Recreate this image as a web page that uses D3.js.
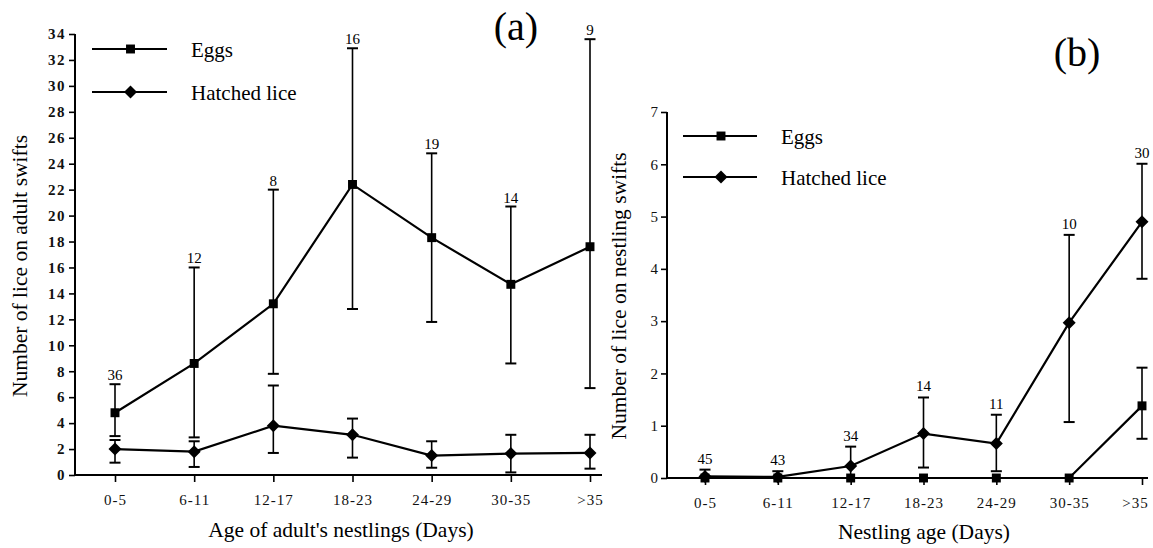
<!DOCTYPE html>
<html>
<head>
<meta charset="utf-8">
<script src="https://cdn.jsdelivr.net/npm/d3@7"></script>
<style>
  body { margin: 0; background: #fff; }
  svg, svg text { font-family: "Liberation Serif", "Times New Roman", serif; }
</style>
</head>
<body>
<svg width="1153" height="548"></svg>
<script>
// categories
const ageGroups = ['0-5', '6-11', '12-17', '18-23', '24-29', '30-35', '>35'];

// panel (a): lice on adult swifts
const adultEggMean = [4.8, 8.6, 13.2, 22.4, 18.3, 14.7, 17.6];
const adultEggHi   = [7.0, 16.0, 22.0, 32.9, 24.8, 20.7, 33.6];
const adultEggLo   = [3.0, 2.9, 7.8, 12.8, 11.8, 8.6, 6.7];
const adultLiceMean = [2.0, 1.8, 3.8, 3.1, 1.5, 1.65, 1.7];
const adultLiceHi   = [2.7, 2.6, 6.9, 4.35, 2.6, 3.1, 3.1];
const adultLiceLo   = [0.95, 0.62, 1.7, 1.34, 0.56, 0.2, 0.49];
const adultN = [36, 12, 8, 16, 19, 14, 9];
const adultTicks = d3.range(0, 35, 2);

// panel (b): lice on nestling swifts
const nestEggMean = [0, 0, 0, 0, 0, 0, 1.38];
const nestEggHi   = [null, null, null, null, null, null, 2.11];
const nestEggLo   = [null, null, null, null, null, null, 0.75];
const nestLiceMean = [0.03, 0.02, 0.23, 0.85, 0.66, 2.97, 4.9];
const nestLiceHi   = [0.16, 0.13, 0.6, 1.54, 1.21, 4.65, 6.01];
const nestLiceLo   = [0, 0, 0, 0.2, 0.13, 1.07, 3.81];
const nestN = [45, 43, 34, 14, 11, 10, 30];
const nestTicks = d3.range(0, 8, 1);

const svg = d3.select('svg');

// wide diamond like the printed figure
const diamond = 'M0,-6.5L6.5,0L0,6.5L-6.5,0Z';
const square = d3.symbol().type(d3.symbolSquare).size(80)();

function drawPanel(o) {
  let g = svg.append('g');
  let x = d3.scalePoint().domain(ageGroups).range([o.x0, o.x1]);
  let y = d3.scaleLinear().domain(o.yDomain).range([o.yBottom, o.yTop]);

  // y axis
  let yAxis = d3.axisLeft(y).tickValues(o.yTicks).tickFormat(d3.format('d'))
    .tickSize(6).tickPadding(3).tickSizeOuter(0);
  let ya = g.append('g').attr('transform', `translate(${o.axisX},0)`).call(yAxis)
    .attr('font-family', null);
  ya.select('.domain').attr('stroke-width', 2).attr('d', `M0,${o.yBottom}V${o.yTop}`);
  ya.selectAll('.tick line').attr('stroke-width', 1.6);
  ya.selectAll('.tick text')
    .style('font-size', '15px').style('font-weight', o.yTickWeight)
    .style('letter-spacing', o.yTickSpacing + 'px').attr('fill', '#111');

  // x axis
  let xAxis = d3.axisBottom(x).tickSize(7).tickPadding(12).tickSizeOuter(0);
  let xa = g.append('g').attr('transform', `translate(0,${o.yBottom})`).call(xAxis)
    .attr('font-family', null);
  xa.select('.domain').attr('stroke-width', 2).attr('d', `M${o.axisX},0H${o.xEnd}`);
  xa.selectAll('.tick line').attr('stroke-width', 1.6);
  xa.selectAll('.tick text').style('font-size', '15px')
    .style('letter-spacing', '1px').attr('fill', '#111')
    .attr('dx', (d, i, n) => i === n.length - 1 ? o.lastTickDx : 0);

  // axis titles
  g.append('text')
    .attr('x', o.xTitleX).attr('y', o.xTitleY)
    .attr('text-anchor', 'middle').style('font-size', '21.5px')
    .text(o.xTitle);
  g.append('text')
    .attr('transform', `translate(${o.yTitleX},${o.yTitleY}) rotate(-90)`)
    .attr('text-anchor', 'middle').style('font-size', '21.5px')
    .text(o.yTitle);

  // panel letter
  g.append('text')
    .attr('x', o.letterX).attr('y', o.letterY)
    .attr('text-anchor', 'middle').style('font-size', '40px')
    .text(o.letter);

  // error bars
  function errorBars(hi, lo, capW) {
    ageGroups.forEach((c, i) => {
      if (hi[i] == null) return;
      let cx = x(c);
      g.append('line').attr('x1', cx).attr('x2', cx)
        .attr('y1', y(hi[i])).attr('y2', y(lo[i]))
        .attr('stroke', '#000').attr('stroke-width', 1.6);
      [hi[i], lo[i]].forEach(v => {
        g.append('line').attr('x1', cx - capW / 2).attr('x2', cx + capW / 2)
          .attr('y1', y(v)).attr('y2', y(v))
          .attr('stroke', '#000').attr('stroke-width', 2);
      });
    });
  }
  errorBars(o.eggHi, o.eggLo, 11);
  errorBars(o.liceHi, o.liceLo, 11);

  let line = d3.line().x((d, i) => x(ageGroups[i])).y(d => y(d));
  g.append('path').datum(o.eggMean).attr('d', line)
    .attr('fill', 'none').attr('stroke', '#000').attr('stroke-width', 2.2);
  g.append('path').datum(o.liceMean).attr('d', line)
    .attr('fill', 'none').attr('stroke', '#000').attr('stroke-width', 2.2);

  g.selectAll('.egg').data(o.eggMean).enter().append('path')
    .attr('d', square).attr('transform', (d, i) => `translate(${x(ageGroups[i])},${y(d)})`);
  g.selectAll('.lice').data(o.liceMean).enter().append('path')
    .attr('d', diamond).attr('transform', (d, i) => `translate(${x(ageGroups[i])},${y(d)})`);

  // sample sizes
  g.selectAll('.n').data(o.n).enter().append('text')
    .attr('x', (d, i) => x(ageGroups[i]))
    .attr('y', (d, i) => y(o.nAt[i]) - o.nOffset)
    .attr('text-anchor', 'middle').style('font-size', '15px')
    .text(d => d);

  // legend
  let legend = [['Eggs', square, o.legY0], ['Hatched lice', diamond, o.legY1]];
  legend.forEach(([label, sym, ly]) => {
    g.append('line').attr('x1', o.legX0).attr('x2', o.legX1).attr('y1', ly).attr('y2', ly)
      .attr('stroke', '#000').attr('stroke-width', 2);
    g.append('path').attr('d', sym).attr('transform', `translate(${(o.legX0 + o.legX1) / 2 + 1},${ly})`);
    g.append('text').attr('x', o.legX1 + 24).attr('y', ly + 8)
      .style('font-size', '21px').text(label);
  });
}

drawPanel({
  x0: 115, x1: 590, axisX: 75, xEnd: 602,
  yDomain: [0, 34], yBottom: 475, yTop: 34, yTicks: adultTicks,
  yTickWeight: 'bold', yTickSpacing: 1.5, lastTickDx: 0,
  xTitle: "Age of adult's nestlings (Days)", xTitleX: 341, xTitleY: 537,
  yTitle: 'Number of lice on adult swifts', yTitleX: 27, yTitleY: 266,
  letter: '(a)', letterX: 516, letterY: 40,
  eggMean: adultEggMean, eggHi: adultEggHi, eggLo: adultEggLo,
  liceMean: adultLiceMean, liceHi: adultLiceHi, liceLo: adultLiceLo,
  n: adultN, nAt: adultEggHi, nOffset: 4,
  legX0: 92, legX1: 167, legY0: 49, legY1: 92
});

drawPanel({
  x0: 705, x1: 1142, axisX: 667, xEnd: 1148,
  yDomain: [0, 7], yBottom: 478, yTop: 112, yTicks: nestTicks,
  yTickWeight: 'normal', yTickSpacing: 0, lastTickDx: -7,
  xTitle: 'Nestling age (Days)', xTitleX: 924, xTitleY: 539,
  yTitle: 'Number of lice on nestling swifts', yTitleX: 626, yTitleY: 296,
  letter: '(b)', letterX: 1077, letterY: 66,
  eggMean: nestEggMean, eggHi: nestEggHi, eggLo: nestEggLo,
  liceMean: nestLiceMean, liceHi: nestLiceHi, liceLo: nestLiceLo,
  n: nestN, nAt: nestLiceHi, nOffset: 6,
  legX0: 683, legX1: 757, legY0: 136, legY1: 177
});
</script>
</body>
</html>
